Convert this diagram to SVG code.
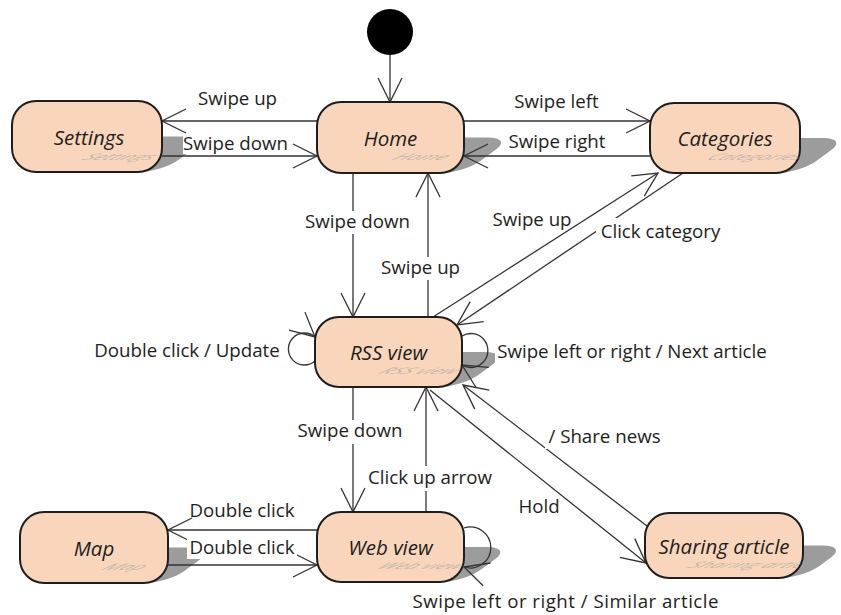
<svg xmlns="http://www.w3.org/2000/svg" width="841" height="615" viewBox="0 0 841 615">
<style>
.node{fill:#f9d6bb;stroke:#1e1e1e;stroke-width:2}
.shadow{fill:#9c9c9c}
.nl{font-family:"Open Sans","Liberation Sans",sans-serif;font-style:italic;font-size:20.5px;fill:#1e1e1e;text-anchor:middle}
.ghost{font-family:"Open Sans","Liberation Sans",sans-serif;font-style:italic;font-size:20px;fill:#a0a0a0;opacity:0.6;text-anchor:middle}
.ln{fill:none;stroke:#333;stroke-width:1.3}
.lbl{font-family:"Open Sans","Liberation Sans",sans-serif;font-size:18.7px;fill:#1e1e1e;text-anchor:middle}
.bg{fill:#fff}
</style>
<defs>
<marker id="arr" markerUnits="userSpaceOnUse" viewBox="-26 -15 30 30" markerWidth="30" markerHeight="30" refX="0" refY="0" orient="auto" overflow="visible">
<path d="M-24,-12 L0,0 L-24,12" fill="none" stroke="#333" stroke-width="1.3"/>
</marker>
<clipPath id="c-settings"><rect x="12" y="101" width="150" height="71" rx="24"/></clipPath>
<clipPath id="c-home"><rect x="317" y="102" width="147" height="71" rx="24"/></clipPath>
<clipPath id="c-categories"><rect x="650" y="103" width="150" height="70" rx="24"/></clipPath>
<clipPath id="c-rss"><rect x="315" y="317" width="147" height="70" rx="24"/></clipPath>
<clipPath id="c-map"><rect x="20" y="512" width="148" height="71" rx="24"/></clipPath>
<clipPath id="c-web"><rect x="317" y="512" width="147" height="70" rx="24"/></clipPath>
<clipPath id="c-sharing"><rect x="645" y="513" width="158" height="65" rx="24"/></clipPath>
</defs>
<rect width="841" height="615" fill="#fff"/>

<g id="shadows">
<rect class="shadow" x="12" y="101" width="150" height="71" rx="24" transform="matrix(1 0 -0.68 0.5 116.96 86)"/>
<rect class="shadow" x="317" y="102" width="147" height="71" rx="24" transform="matrix(1 0 -0.68 0.5 117.64 86.5)"/>
<rect class="shadow" x="650" y="103" width="150" height="70" rx="24" transform="matrix(1 0 -0.68 0.5 117.64 86.5)"/>
<rect class="shadow" x="315" y="317" width="147" height="70" rx="24" transform="matrix(1 0 -0.68 0.5 263.16 193.5)"/>
<rect class="shadow" x="20" y="512" width="148" height="71" rx="24" transform="matrix(1 0 -0.68 0.5 396.44 291.5)"/>
<rect class="shadow" x="317" y="512" width="147" height="70" rx="24" transform="matrix(1 0 -0.68 0.5 395.76 291)"/>
<rect class="shadow" x="645" y="513" width="158" height="65" rx="24" transform="matrix(1 0 -0.68 0.5 393.04 289)"/>
</g>

<g id="connectors">
<line class="ln" x1="390" y1="55" x2="390" y2="102" marker-end="url(#arr)"/>
<line class="ln" x1="317" y1="121" x2="162" y2="121" marker-end="url(#arr)"/>
<line class="ln" x1="162" y1="156" x2="317" y2="156" marker-end="url(#arr)"/>
<line class="ln" x1="464" y1="121" x2="650" y2="121" marker-end="url(#arr)"/>
<line class="ln" x1="650" y1="156" x2="464" y2="156" marker-end="url(#arr)"/>
<line class="ln" x1="353" y1="173" x2="353" y2="317" marker-end="url(#arr)"/>
<line class="ln" x1="428" y1="317" x2="428" y2="173" marker-end="url(#arr)"/>
<line class="ln" x1="433" y1="317" x2="658" y2="173" marker-end="url(#arr)"/>
<line class="ln" x1="683" y1="173" x2="457" y2="325" marker-end="url(#arr)"/>
<path class="ln" d="M315,361 A16,16 0 1 1 315,337" marker-end="url(#arr)"/>
<path class="ln" d="M462,336 A17,17 0 1 1 462,365" marker-end="url(#arr)"/>
<line class="ln" x1="353" y1="387" x2="353" y2="512" marker-end="url(#arr)"/>
<line class="ln" x1="426" y1="512" x2="426" y2="387" marker-end="url(#arr)"/>
<line class="ln" x1="430" y1="390" x2="646" y2="563" marker-end="url(#arr)"/>
<line class="ln" x1="647" y1="526" x2="463" y2="385" marker-end="url(#arr)"/>
<line class="ln" x1="317" y1="530" x2="168" y2="530" marker-end="url(#arr)"/>
<line class="ln" x1="168" y1="565" x2="317" y2="565" marker-end="url(#arr)"/>
<path class="ln" d="M464,528 A20.5,20.5 0 1 1 464,567" marker-end="url(#arr)"/>

<rect class="bg" x="183" y="134" width="106" height="20"/>
<rect class="bg" x="505" y="132" width="104" height="20"/>
<rect class="bg" x="304" y="211" width="107" height="23"/>
<rect class="bg" x="379" y="257" width="83" height="23"/>
<rect class="bg" x="596" y="218" width="128" height="25"/>
<rect class="bg" x="495" y="340" width="274" height="24"/>
<rect class="bg" x="296" y="420" width="109" height="24"/>
<rect class="bg" x="366" y="466" width="128" height="25"/>
<rect class="bg" x="545" y="426" width="119" height="23"/>
<rect class="bg" x="187" y="538" width="110" height="21"/>

<text class="lbl" x="237.5" y="105">Swipe up</text>
<text class="lbl" x="235.5" y="150">Swipe down</text>
<text class="lbl" x="556.5" y="108">Swipe left</text>
<text class="lbl" x="557" y="148">Swipe right</text>
<text class="lbl" x="357.5" y="228">Swipe down</text>
<text class="lbl" x="420.5" y="274">Swipe up</text>
<text class="lbl" x="532" y="226">Swipe up</text>
<text class="lbl" x="660.5" y="238">Click category</text>
<text class="lbl" x="187" y="357">Double click / Update</text>
<text class="lbl" x="632" y="358">Swipe left or right / Next article</text>
<text class="lbl" x="350" y="437">Swipe down</text>
<text class="lbl" x="430" y="484">Click up arrow</text>
<text class="lbl" x="604.5" y="443">/ Share news</text>
<text class="lbl" x="539" y="513">Hold</text>
<text class="lbl" x="242" y="517">Double click</text>
<text class="lbl" x="242" y="554">Double click</text>
<text class="lbl" x="565.5" y="608" textLength="306">Swipe left or right / Similar article</text>
</g>

<g id="initial">
<circle cx="390" cy="32" r="23" fill="#000"/>
</g>

<g id="settings">
<rect class="node" x="12" y="101" width="150" height="71" rx="24"/>
<text class="nl" x="89" y="145">Settings</text>
<g clip-path="url(#c-settings)"><text class="ghost" x="89" y="0" transform="translate(26,160) matrix(1 0 -0.8 0.45 0 0)">Settings</text></g>
</g>

<g id="home">
<rect class="node" x="317" y="102" width="147" height="71" rx="24"/>
<text class="nl" x="390.5" y="145.5">Home</text>
<g clip-path="url(#c-home)"><text class="ghost" x="390.5" y="0" transform="translate(26,159.5) matrix(1 0 -0.8 0.45 0 0)">Home</text></g>
</g>

<g id="categories">
<rect class="node" x="650" y="103" width="150" height="70" rx="24"/>
<text class="nl" x="725" y="146">Categories</text>
<g clip-path="url(#c-categories)"><text class="ghost" x="725" y="0" transform="translate(26,160) matrix(1 0 -0.8 0.45 0 0)">Categories</text></g>
</g>

<g id="rss-view">
<rect class="node" x="315" y="317" width="147" height="70" rx="24"/>
<text class="nl" x="388.5" y="360">RSS view</text>
<g clip-path="url(#c-rss)"><text class="ghost" x="388.5" y="0" transform="translate(26,374) matrix(1 0 -0.8 0.45 0 0)">RSS view</text></g>
</g>

<g id="map">
<rect class="node" x="20" y="512" width="148" height="71" rx="24"/>
<text class="nl" x="94" y="555.5">Map</text>
<g clip-path="url(#c-map)"><text class="ghost" x="94" y="0" transform="translate(26,569.5) matrix(1 0 -0.8 0.45 0 0)">Map</text></g>
</g>

<g id="web-view">
<rect class="node" x="317" y="512" width="147" height="70" rx="24"/>
<text class="nl" x="390.5" y="555">Web view</text>
<g clip-path="url(#c-web)"><text class="ghost" x="390.5" y="0" transform="translate(26,569) matrix(1 0 -0.8 0.45 0 0)">Web view</text></g>
</g>

<g id="sharing-article">
<rect class="node" x="645" y="513" width="158" height="65" rx="24"/>
<text class="nl" x="724" y="553.5">Sharing article</text>
<g clip-path="url(#c-sharing)"><text class="ghost" x="724" y="0" transform="translate(26,567.5) matrix(1 0 -0.8 0.45 0 0)">Sharing article</text></g>
</g>
</svg>
